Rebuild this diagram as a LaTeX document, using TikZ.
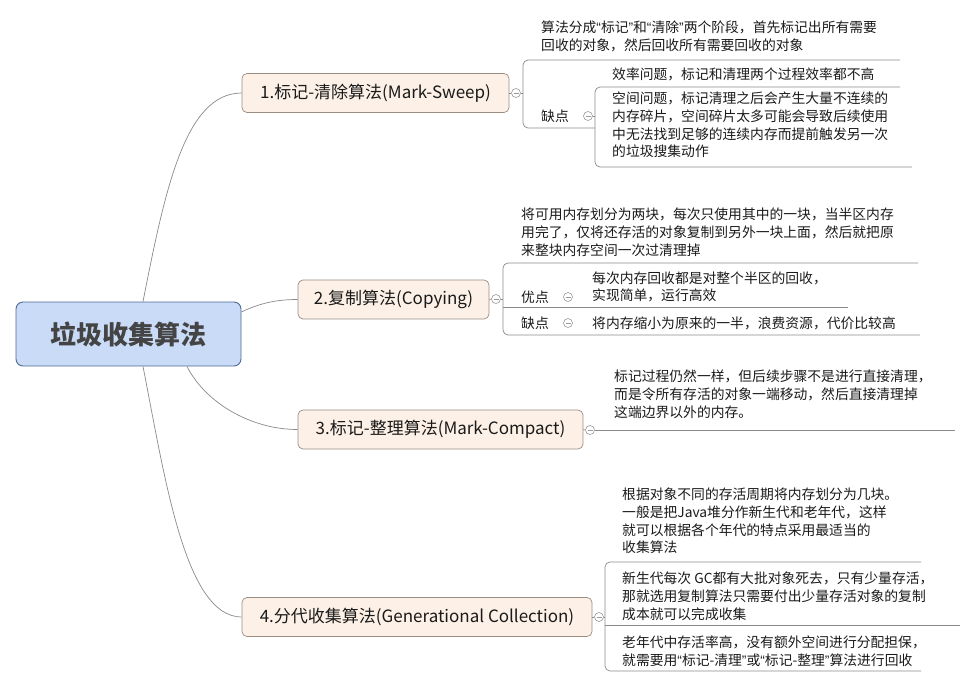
\documentclass[tikz,border=0pt]{standalone}
\usepackage{fontspec}
\setmainfont{Noto Sans CJK SC}
\newfontfamily\quotefont{Liberation Sans}
\newcommand\myoq{{\quotefont “}}
\newcommand\mycq{{\quotefont ”}}
\definecolor{rootfill}{HTML}{C9DBF7}
\definecolor{rootborder}{HTML}{4F6A92}
\definecolor{roottext}{HTML}{444444}
\definecolor{brfill}{HTML}{FDF1E7}
\definecolor{brborder}{HTML}{9B8C82}
\definecolor{linecol}{HTML}{8A8A8A}
\definecolor{txt}{HTML}{1A1A1A}
\definecolor{collapsecol}{HTML}{9A9A9A}
\tikzset{
  rootbox/.style={draw=rootborder, fill=rootfill, rounded corners=7pt, line width=0.9pt,
    minimum width=225pt, minimum height=64pt, inner sep=0pt,
    font=\fontsize{26}{30}\selectfont\bfseries, text=roottext},
  branchbox/.style={draw=brborder, fill=brfill, rounded corners=5pt, line width=0.7pt,
    minimum height=39pt, inner sep=0pt, font=\fontsize{17}{20}\selectfont, text=txt},
  leaf/.style={inner sep=0pt, anchor=west, align=left,
    font=\fontsize{13.8}{17.8}\selectfont, text=txt},
  link/.style={draw=linecol, line width=0.7pt},
  collapse/.style={circle, draw=collapsecol, fill=white, minimum size=9pt, inner sep=0pt,
    line width=0.6pt,
    path picture={\draw[collapsecol, line width=0.6pt]
      ([xshift=-2.5pt]path picture bounding box.center) --
      ([xshift=2.5pt]path picture bounding box.center);}}
}
\begin{document}
\begin{tikzpicture}[x=1pt,y=-1pt]
\useasboundingbox (0,0) rectangle (972,687);

% ---------- main nodes ----------
\node[rootbox] (root) at (128.5,334) {垃圾收集算法};
\node[branchbox, minimum width=267pt] (n1) at (375.5,93) {1.标记-清除算法(Mark-Sweep)};
\node[branchbox, minimum width=191pt] (n2) at (393.5,299.5) {2.复制算法(Copying)};
\node[branchbox, minimum width=285pt] (n3) at (440.5,429.5) {3.标记-整理算法(Mark-Compact)};
\node[branchbox, minimum width=350pt] (n4) at (417,617) {4.分代收集算法(Generational Collection)};

% ---------- root connectors ----------
\draw[link] ([xshift=14.5pt]root.north) .. controls (165,190) and (185,93) .. (n1.west);
\draw[link] ([yshift=22pt]root.east) .. controls (262,302) and (280,299.5) .. (n2.west);
\draw[link] ([xshift=58.5pt]root.south) .. controls (205,402) and (250,429.5) .. (n3.west);
\draw[link] ([xshift=14.5pt]root.south) .. controls (165,478) and (185,617) .. (n4.west);

% ---------- spine coordinates ----------
\coordinate (s1t) at (523,60);   \coordinate (s1te) at (900,60);
\coordinate (s1b) at (523,128);  \coordinate (s1be) at (595,128);
\coordinate (s1m) at (523,93);
\coordinate (i1t) at (595,87);   \coordinate (i1te) at (900,87);
\coordinate (i1b) at (595,167);  \coordinate (i1be) at (912,167);
\coordinate (i1m) at (595,116);
\coordinate (s2t) at (503,263);  \coordinate (s2te) at (918,263);
\coordinate (s2b) at (503,335);  \coordinate (s2be) at (920,335);
\coordinate (s2m) at (503,299);
\coordinate (s2u) at (503,307);  \coordinate (s2ue) at (848,307);
\coordinate (s3e) at (955,430);
\coordinate (s4t) at (605,562);  \coordinate (s4te) at (921,562);
\coordinate (s4b) at (605,671);  \coordinate (s4be) at (921,671);
\coordinate (s4m) at (605,617);
\coordinate (s4u) at (605,625);  \coordinate (s4ue) at (960,625);

% ---------- brackets / underlines ----------
\draw[link, rounded corners=5pt] (s1te) -- (s1t) -- (s1b) -- (s1be);
\draw[link, rounded corners=5pt] (i1te) -- (i1t) -- (i1b) -- (i1be);
\draw[link, rounded corners=5pt] (s2te) -- (s2t) -- (s2b) -- (s2be);
\draw[link] (s2u) -- (s2ue);
\draw[link, rounded corners=5pt] (s4te) -- (s4t) -- (s4b) -- (s4be);
\draw[link] (s4u) -- (s4ue);

% ---------- collapse buttons ----------
\node[collapse] (c1) at (516,93) {};
\node[collapse] (c1b) at (588,116) {};
\node[collapse] (c2) at (496,299) {};
\node[collapse] (c2a) at (568,297) {};
\node[collapse] (c2b) at (568,323) {};
\node[collapse] (c3) at (590,430) {};
\node[collapse] (c4) at (599,617) {};
\draw[link] (n1.east) -- (c1.west);
\draw[link] (c1.east) -- (s1m);
\draw[link] (c1b.east) -- (i1m);
\draw[link] (n2.east) -- (c2.west);
\draw[link] (c2.east) -- (s2m);
\draw[link] (n3.east) -- (c3.west);
\draw[link] (c3.east) -- (s3e);
\draw[link] (n4.east) -- (c4.west);
\draw[link] (c4.east) -- (s4m);

% ---------- leaf texts ----------
\node[leaf] (t1a) at (541,36.5) {算法分成\myoq 标记\mycq 和\myoq 清除\mycq 两个阶段，首先标记出所有需要\\回收的对象，然后回收所有需要回收的对象};
\node[leaf] (t1b) at (541,116) {缺点};
\node[leaf] (t1c) at (612,74.5) {效率问题，标记和清理两个过程效率都不高};
\node[leaf] (t1d) at (612,125) {空间问题，标记清理之后会产生大量不连续的\\内存碎片，空间碎片太多可能会导致后续使用\\中无法找到足够的连续内存而提前触发另一次\\的垃圾搜集动作};

\node[leaf] (t2a) at (521,232.5) {将可用内存划分为两块，每次只使用其中的一块，当半区内存\\用完了，仅将还存活的对象复制到另外一块上面，然后就把原\\来整块内存空间一次过清理掉};
\node[leaf] (t2b) at (521,297) {优点};
\node[leaf] (t2c) at (592,287) {每次内存回收都是对整个半区的回收，\\实现简单，运行高效};
\node[leaf] (t2d) at (521,323) {缺点};
\node[leaf] (t2e) at (592,323) {将内存缩小为原来的一半，浪费资源，代价比较高};

\node[leaf] (t3a) at (614,394) {标记过程仍然一样，但后续步骤不是进行直接清理，\\而是令所有存活的对象一端移动，然后直接清理掉\\这端边界以外的内存。};

\node[leaf] (t4a) at (622,521) {根据对象不同的存活周期将内存划分为几块。\\一般是把Java堆分作新生代和老年代，这样\\就可以根据各个年代的特点采用最适当的\\收集算法};
\node[leaf] (t4b) at (622,596) {新生代每次 GC都有大批对象死去，只有少量存活，\\那就选用复制算法只需要付出少量存活对象的复制\\成本就可以完成收集};
\node[leaf] (t4c) at (622,651) {老年代中存活率高，没有额外空间进行分配担保，\\就需要用\myoq 标记-清理\mycq 或\myoq 标记-整理\mycq 算法进行回收};
\end{tikzpicture}
\end{document}
